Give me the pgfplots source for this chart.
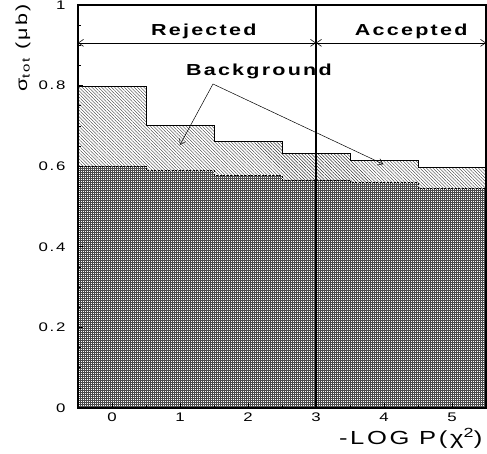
\documentclass[border=0pt]{standalone}
\usepackage{fontspec}
\setmainfont{Liberation Sans}[FakeStretch=1.35, LetterSpace=14]
\usepackage{pgfplots}
\pgfplotsset{compat=1.18}
\usetikzlibrary{patterns.meta, arrows.meta}

% total cross section per -log P(chi^2) bin (signal + background)
\pgfplotstableread{
x     y
-0.5  0.797
 0.5  0.702
 1.5  0.661
 2.5  0.632
 3.5  0.615
 4.5  0.596
 5.5  0.596
}\total
% signal-only part of the same bins
\pgfplotstableread{
x     y
-0.5  0.600
 0.5  0.589
 1.5  0.578
 2.5  0.566
 3.5  0.559
 4.5  0.545
 5.5  0.545
}\signal

\begin{document}
\begin{tikzpicture}[>={Straight Barb[length=5bp,width=7bp]}]
\begin{axis}[
  at={(0,0)}, anchor=south west,
  scale only axis, width=408bp, height=403bp,
  xmin=-0.5, xmax=5.5, ymin=0, ymax=1,
  axis on top,
  xtick={0,1,2,3,4,5},
  minor xtick={-0.5,0.5,1.5,2.5,3.5,4.5,5.5},
  ytick={0,0.2,0.4,0.6,0.8,1},
  minor y tick num=3,
  tick pos=left,
  tick align=inside,
  major tick length=5bp, minor tick length=3bp,
  tick style={black, line width=0.6bp},
  axis line style={line width=1.2bp},
  /pgf/number format/assume math mode=true,
  ticklabel style={font=\fontsize{12.5}{14}\selectfont},
  yticklabel style={xshift=-9bp},
  xticklabel style={yshift=-1bp},
  xlabel={-LOG P(χ\textsuperscript{2})},
  xlabel style={font=\fontsize{19}{21}\selectfont, at={(axis description cs:1.0,-0.075)}, anchor=east},
  ylabel={σ\textsubscript{tot} (μb)},
  ylabel style={font=\fontsize{16}{18}\selectfont, at={(axis description cs:-0.135,1.01)}, anchor=east},
]
% background + signal (light hatching)
\addplot[const plot, draw=black, line width=0.8bp,
  pattern={Lines[angle=-45,distance=2.3bp,line width=0.4bp]}, pattern color=black!80]
  table[x=x,y=y] {\total} \closedcycle;
% signal only (dense cross-hatching on a clean white base)
\addplot[const plot, draw=none, fill=white, forget plot]
  table[x=x,y=y] {\signal} \closedcycle;
\addplot[const plot, draw=black, line width=0.6bp, dash pattern=on 2bp off 1.5bp,
  pattern={Hatch[angle=0,distance=2bp,line width=0.45bp]}, pattern color=black!70]
  table[x=x,y=y] {\signal} \closedcycle;
% cut at -log P = 3
\addplot[black, line width=2bp] coordinates {(3,0) (3,1)};

\draw[<->, line width=0.6bp] (axis cs:-0.5,0.906) -- (axis cs:3,0.906);
\draw[<->, line width=0.6bp] (axis cs:3,0.906) -- (axis cs:5.5,0.906);
\node[font=\bfseries\fontsize{16}{17}\selectfont] at (axis cs:1.35,0.935) {Rejected};
\node[font=\bfseries\fontsize{16}{17}\selectfont] at (axis cs:4.4,0.935) {Accepted};
\node[font=\bfseries\fontsize{16}{17}\selectfont] at (axis cs:2.16,0.836) {Background};
\draw[->, line width=0.5bp] (axis cs:1.485,0.804) -- (axis cs:1.0,0.653);
\draw[->, line width=0.5bp] (axis cs:1.485,0.804) -- (axis cs:3.99,0.605);
\end{axis}
\pgfresetboundingbox
\path[use as bounding box] (-78bp,-46bp) rectangle (409bp,408bp);
\end{tikzpicture}
\end{document}
